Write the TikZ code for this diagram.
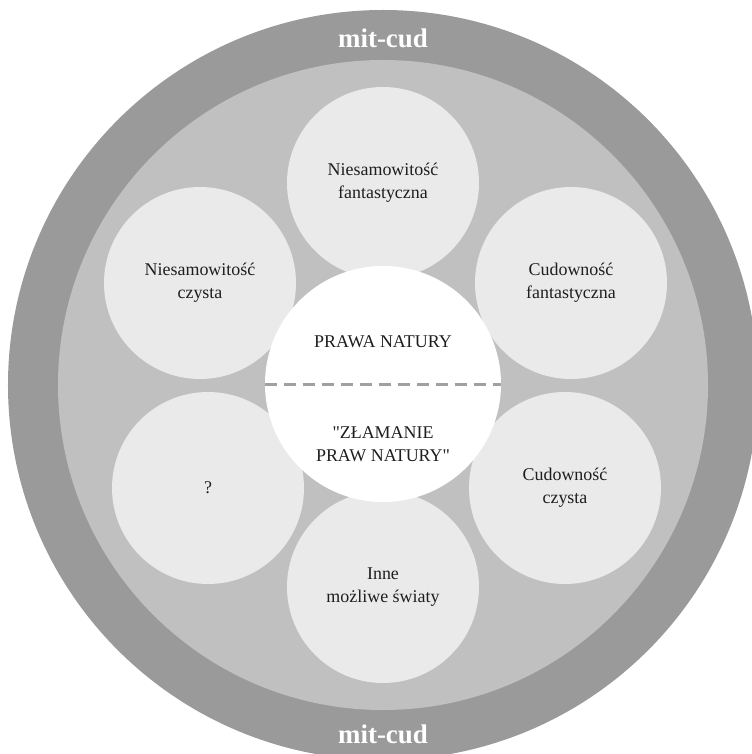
\documentclass[tikz,border=0pt]{standalone}
\usepackage{fontspec}
\setmainfont{Liberation Serif}[Ligatures=TeXOff]
\definecolor{ringdark}{HTML}{9A9A9A}
\definecolor{ringlight}{HTML}{C0C0C0}
\definecolor{bubble}{HTML}{E9EAE9}
\definecolor{dashgray}{HTML}{A0A0A0}
\definecolor{txt}{HTML}{1E1E1E}
\tikzset{
  bubblenode/.style={circle, fill=bubble, minimum size=192bp, inner sep=0pt, align=center,
    font=\fontsize{18}{23}\selectfont, text=txt},
  corenode/.style={circle, fill=white, minimum size=236bp, inner sep=0pt},
  coretext/.style={align=center, font=\fontsize{18}{23}\selectfont, text=txt},
  ringlabel/.style={font=\fontsize{27}{30}\selectfont\bfseries, text=white, anchor=base},
  divider/.style={draw=dashgray, line width=3bp, dash pattern=on 12bp off 7bp}
}
\begin{document}
\begin{tikzpicture}[x=1bp, y=-1bp]
\useasboundingbox (0,0) rectangle (752,754);
\clip (0,0) rectangle (752,754);
\fill[ringdark] (383,385) circle[radius=375bp];
\fill[ringlight] (383,385) circle[radius=325bp];
\node[ringlabel] (labtop) at (383,48) {mit-cud};
\node[ringlabel] (labbot) at (383,743) {mit-cud};
\node[bubblenode] (top) at (383,183) {Niesamowitość\\fantastyczna};
\node[bubblenode] (ul) at (200,283) {Niesamowitość\\czysta};
\node[bubblenode] (ur) at (571,283) {Cudowność\\fantastyczna};
\node[bubblenode] (ll) at (208,488) {?};
\node[bubblenode] (lr) at (565,488) {Cudowność\\czysta};
\node[bubblenode] (bot) at (383,587) {Inne\\możliwe światy};
\node[corenode] (core) at (383,384) {};
\draw[divider] (core.west) -- (core.east);
\node[coretext] (laws) at (383,342) {PRAWA NATURY};
\node[coretext] (breach) at (383,444) {"ZŁAMANIE\\PRAW NATURY"};
\end{tikzpicture}
\end{document}
